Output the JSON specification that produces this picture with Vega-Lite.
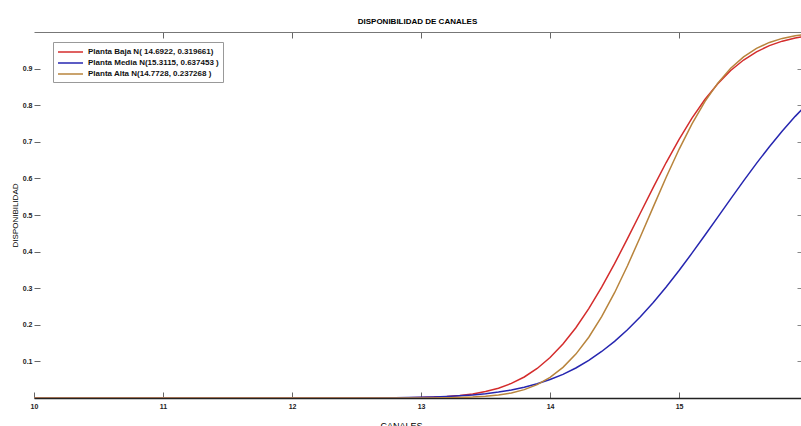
{
  "$schema": "https://vega.github.io/schema/vega-lite/v6.json",
  "width": 767,
  "height": 366,
  "autosize": {"type": "none"},
  "padding": {"left": 34, "top": 32, "right": 0, "bottom": 28},
  "background": "white",
  "title": {"text": "DISPONIBILIDAD DE CANALES", "font": "Liberation Sans", "fontSize": 8, "fontWeight": "bold", "color": "#000", "offset": 6, "anchor": "middle"},
  "config": {
    "view": {"stroke": null},
    "axis": {"labelFont": "Liberation Sans", "labelFontSize": 7, "labelFontWeight": "bold", "labelColor": "#222", "titleFont": "Liberation Sans", "titleFontSize": 8, "titleFontWeight": "normal", "titleColor": "#000", "grid": false}
  },
  "datasets": {
    "curves": [
      {"x": 10, "y": 0, "s": "Planta Baja N( 14.6922, 0.319661)"},
      {"x": 11, "y": 0, "s": "Planta Baja N( 14.6922, 0.319661)"},
      {"x": 12, "y": 0, "s": "Planta Baja N( 14.6922, 0.319661)"},
      {"x": 12.5, "y": 0.0001, "s": "Planta Baja N( 14.6922, 0.319661)"},
      {"x": 12.8, "y": 0.0004, "s": "Planta Baja N( 14.6922, 0.319661)"},
      {"x": 12.9, "y": 0.0008, "s": "Planta Baja N( 14.6922, 0.319661)"},
      {"x": 13.0, "y": 0.0014, "s": "Planta Baja N( 14.6922, 0.319661)"},
      {"x": 13.1, "y": 0.0024, "s": "Planta Baja N( 14.6922, 0.319661)"},
      {"x": 13.2, "y": 0.0042, "s": "Planta Baja N( 14.6922, 0.319661)"},
      {"x": 13.3, "y": 0.0069, "s": "Planta Baja N( 14.6922, 0.319661)"},
      {"x": 13.4, "y": 0.0111, "s": "Planta Baja N( 14.6922, 0.319661)"},
      {"x": 13.5, "y": 0.0175, "s": "Planta Baja N( 14.6922, 0.319661)"},
      {"x": 13.6, "y": 0.0268, "s": "Planta Baja N( 14.6922, 0.319661)"},
      {"x": 13.7, "y": 0.0398, "s": "Planta Baja N( 14.6922, 0.319661)"},
      {"x": 13.8, "y": 0.0574, "s": "Planta Baja N( 14.6922, 0.319661)"},
      {"x": 13.9, "y": 0.0806, "s": "Planta Baja N( 14.6922, 0.319661)"},
      {"x": 14.0, "y": 0.1105, "s": "Planta Baja N( 14.6922, 0.319661)"},
      {"x": 14.1, "y": 0.1477, "s": "Planta Baja N( 14.6922, 0.319661)"},
      {"x": 14.2, "y": 0.1921, "s": "Planta Baja N( 14.6922, 0.319661)"},
      {"x": 14.3, "y": 0.2440, "s": "Planta Baja N( 14.6922, 0.319661)"},
      {"x": 14.4, "y": 0.3027, "s": "Planta Baja N( 14.6922, 0.319661)"},
      {"x": 14.5, "y": 0.3670, "s": "Planta Baja N( 14.6922, 0.319661)"},
      {"x": 14.6, "y": 0.4352, "s": "Planta Baja N( 14.6922, 0.319661)"},
      {"x": 14.7, "y": 0.5055, "s": "Planta Baja N( 14.6922, 0.319661)"},
      {"x": 14.8, "y": 0.5756, "s": "Planta Baja N( 14.6922, 0.319661)"},
      {"x": 14.9, "y": 0.6434, "s": "Planta Baja N( 14.6922, 0.319661)"},
      {"x": 15.0, "y": 0.7069, "s": "Planta Baja N( 14.6922, 0.319661)"},
      {"x": 15.1, "y": 0.7647, "s": "Planta Baja N( 14.6922, 0.319661)"},
      {"x": 15.2, "y": 0.8154, "s": "Planta Baja N( 14.6922, 0.319661)"},
      {"x": 15.3, "y": 0.8588, "s": "Planta Baja N( 14.6922, 0.319661)"},
      {"x": 15.4, "y": 0.8947, "s": "Planta Baja N( 14.6922, 0.319661)"},
      {"x": 15.5, "y": 0.9234, "s": "Planta Baja N( 14.6922, 0.319661)"},
      {"x": 15.6, "y": 0.9458, "s": "Planta Baja N( 14.6922, 0.319661)"},
      {"x": 15.7, "y": 0.9627, "s": "Planta Baja N( 14.6922, 0.319661)"},
      {"x": 15.8, "y": 0.9750, "s": "Planta Baja N( 14.6922, 0.319661)"},
      {"x": 15.9, "y": 0.9837, "s": "Planta Baja N( 14.6922, 0.319661)"},
      {"x": 16.0, "y": 0.9896, "s": "Planta Baja N( 14.6922, 0.319661)"},
      {"x": 10, "y": 0, "s": "Planta Media N(15.3115, 0.637453 )"},
      {"x": 11, "y": 0, "s": "Planta Media N(15.3115, 0.637453 )"},
      {"x": 12, "y": 0, "s": "Planta Media N(15.3115, 0.637453 )"},
      {"x": 12.5, "y": 0.0002, "s": "Planta Media N(15.3115, 0.637453 )"},
      {"x": 12.8, "y": 0.0008, "s": "Planta Media N(15.3115, 0.637453 )"},
      {"x": 12.9, "y": 0.0013, "s": "Planta Media N(15.3115, 0.637453 )"},
      {"x": 13.0, "y": 0.0019, "s": "Planta Media N(15.3115, 0.637453 )"},
      {"x": 13.1, "y": 0.0028, "s": "Planta Media N(15.3115, 0.637453 )"},
      {"x": 13.2, "y": 0.0041, "s": "Planta Media N(15.3115, 0.637453 )"},
      {"x": 13.3, "y": 0.0059, "s": "Planta Media N(15.3115, 0.637453 )"},
      {"x": 13.4, "y": 0.0084, "s": "Planta Media N(15.3115, 0.637453 )"},
      {"x": 13.5, "y": 0.0117, "s": "Planta Media N(15.3115, 0.637453 )"},
      {"x": 13.6, "y": 0.0161, "s": "Planta Media N(15.3115, 0.637453 )"},
      {"x": 13.7, "y": 0.0219, "s": "Planta Media N(15.3115, 0.637453 )"},
      {"x": 13.8, "y": 0.0292, "s": "Planta Media N(15.3115, 0.637453 )"},
      {"x": 13.9, "y": 0.0387, "s": "Planta Media N(15.3115, 0.637453 )"},
      {"x": 14.0, "y": 0.0504, "s": "Planta Media N(15.3115, 0.637453 )"},
      {"x": 14.1, "y": 0.0647, "s": "Planta Media N(15.3115, 0.637453 )"},
      {"x": 14.2, "y": 0.0820, "s": "Planta Media N(15.3115, 0.637453 )"},
      {"x": 14.3, "y": 0.1029, "s": "Planta Media N(15.3115, 0.637453 )"},
      {"x": 14.4, "y": 0.1271, "s": "Planta Media N(15.3115, 0.637453 )"},
      {"x": 14.5, "y": 0.1549, "s": "Planta Media N(15.3115, 0.637453 )"},
      {"x": 14.6, "y": 0.1865, "s": "Planta Media N(15.3115, 0.637453 )"},
      {"x": 14.7, "y": 0.2221, "s": "Planta Media N(15.3115, 0.637453 )"},
      {"x": 14.8, "y": 0.2611, "s": "Planta Media N(15.3115, 0.637453 )"},
      {"x": 14.9, "y": 0.3033, "s": "Planta Media N(15.3115, 0.637453 )"},
      {"x": 15.0, "y": 0.3483, "s": "Planta Media N(15.3115, 0.637453 )"},
      {"x": 15.1, "y": 0.3957, "s": "Planta Media N(15.3115, 0.637453 )"},
      {"x": 15.2, "y": 0.4445, "s": "Planta Media N(15.3115, 0.637453 )"},
      {"x": 15.3, "y": 0.4943, "s": "Planta Media N(15.3115, 0.637453 )"},
      {"x": 15.4, "y": 0.5441, "s": "Planta Media N(15.3115, 0.637453 )"},
      {"x": 15.5, "y": 0.5933, "s": "Planta Media N(15.3115, 0.637453 )"},
      {"x": 15.6, "y": 0.6411, "s": "Planta Media N(15.3115, 0.637453 )"},
      {"x": 15.7, "y": 0.6867, "s": "Planta Media N(15.3115, 0.637453 )"},
      {"x": 15.8, "y": 0.7297, "s": "Planta Media N(15.3115, 0.637453 )"},
      {"x": 15.9, "y": 0.7695, "s": "Planta Media N(15.3115, 0.637453 )"},
      {"x": 16.0, "y": 0.8057, "s": "Planta Media N(15.3115, 0.637453 )"},
      {"x": 10, "y": 0, "s": "Planta Alta N(14.7728, 0.237268 )"},
      {"x": 11, "y": 0, "s": "Planta Alta N(14.7728, 0.237268 )"},
      {"x": 12, "y": 0, "s": "Planta Alta N(14.7728, 0.237268 )"},
      {"x": 12.5, "y": 0, "s": "Planta Alta N(14.7728, 0.237268 )"},
      {"x": 12.8, "y": 0, "s": "Planta Alta N(14.7728, 0.237268 )"},
      {"x": 12.9, "y": 0.0001, "s": "Planta Alta N(14.7728, 0.237268 )"},
      {"x": 13.0, "y": 0.0001, "s": "Planta Alta N(14.7728, 0.237268 )"},
      {"x": 13.1, "y": 0.0003, "s": "Planta Alta N(14.7728, 0.237268 )"},
      {"x": 13.2, "y": 0.0006, "s": "Planta Alta N(14.7728, 0.237268 )"},
      {"x": 13.3, "y": 0.0013, "s": "Planta Alta N(14.7728, 0.237268 )"},
      {"x": 13.4, "y": 0.0024, "s": "Planta Alta N(14.7728, 0.237268 )"},
      {"x": 13.5, "y": 0.0045, "s": "Planta Alta N(14.7728, 0.237268 )"},
      {"x": 13.6, "y": 0.0080, "s": "Planta Alta N(14.7728, 0.237268 )"},
      {"x": 13.7, "y": 0.0138, "s": "Planta Alta N(14.7728, 0.237268 )"},
      {"x": 13.8, "y": 0.0229, "s": "Planta Alta N(14.7728, 0.237268 )"},
      {"x": 13.9, "y": 0.0366, "s": "Planta Alta N(14.7728, 0.237268 )"},
      {"x": 14.0, "y": 0.0564, "s": "Planta Alta N(14.7728, 0.237268 )"},
      {"x": 14.1, "y": 0.0837, "s": "Planta Alta N(14.7728, 0.237268 )"},
      {"x": 14.2, "y": 0.1199, "s": "Planta Alta N(14.7728, 0.237268 )"},
      {"x": 14.3, "y": 0.1660, "s": "Planta Alta N(14.7728, 0.237268 )"},
      {"x": 14.4, "y": 0.2222, "s": "Planta Alta N(14.7728, 0.237268 )"},
      {"x": 14.5, "y": 0.2877, "s": "Planta Alta N(14.7728, 0.237268 )"},
      {"x": 14.6, "y": 0.3614, "s": "Planta Alta N(14.7728, 0.237268 )"},
      {"x": 14.7, "y": 0.4406, "s": "Planta Alta N(14.7728, 0.237268 )"},
      {"x": 14.8, "y": 0.5223, "s": "Planta Alta N(14.7728, 0.237268 )"},
      {"x": 14.9, "y": 0.6030, "s": "Planta Alta N(14.7728, 0.237268 )"},
      {"x": 15.0, "y": 0.6795, "s": "Planta Alta N(14.7728, 0.237268 )"},
      {"x": 15.1, "y": 0.7491, "s": "Planta Alta N(14.7728, 0.237268 )"},
      {"x": 15.2, "y": 0.8098, "s": "Planta Alta N(14.7728, 0.237268 )"},
      {"x": 15.3, "y": 0.8604, "s": "Planta Alta N(14.7728, 0.237268 )"},
      {"x": 15.4, "y": 0.9011, "s": "Planta Alta N(14.7728, 0.237268 )"},
      {"x": 15.5, "y": 0.9322, "s": "Planta Alta N(14.7728, 0.237268 )"},
      {"x": 15.6, "y": 0.9553, "s": "Planta Alta N(14.7728, 0.237268 )"},
      {"x": 15.7, "y": 0.9715, "s": "Planta Alta N(14.7728, 0.237268 )"},
      {"x": 15.8, "y": 0.9825, "s": "Planta Alta N(14.7728, 0.237268 )"},
      {"x": 15.9, "y": 0.9897, "s": "Planta Alta N(14.7728, 0.237268 )"},
      {"x": 16.0, "y": 0.9941, "s": "Planta Alta N(14.7728, 0.237268 )"}
    ]
  },
  "data": {"name": "curves"},
  "resolve": {"axis": {"x": "independent", "y": "independent"}},
  "layer": [
    {
      "mark": {"type": "line", "strokeWidth": 1.5, "clip": true, "interpolate": "linear"},
      "encoding": {
        "x": {"field": "x", "type": "quantitative", "scale": {"domain": [10, 15.945], "nice": false, "zero": false},
          "axis": {"title": "CANALES", "values": [10, 11, 12, 13, 14, 15], "tickSize": -6, "tickColor": "#666", "labelPadding": 10, "domainColor": "#222", "domainWidth": 1.6, "titlePadding": 12, "titleFontSize": 9, "titleX": 367, "labelFlush": false}},
        "y": {"field": "y", "type": "quantitative", "scale": {"domain": [0, 1], "nice": false},
          "axis": {"title": "DISPONIBILIDAD", "values": [0.1, 0.2, 0.3, 0.4, 0.5, 0.6, 0.7, 0.8, 0.9], "format": ".1f", "tickSize": -6, "tickColor": "#666", "labelPadding": 8, "domain": false, "titlePadding": 3}},
        "color": {"field": "s", "type": "nominal",
          "scale": {"domain": ["Planta Baja N( 14.6922, 0.319661)", "Planta Media N(15.3115, 0.637453 )", "Planta Alta N(14.7728, 0.237268 )"], "range": ["#d42c2c", "#2626b0", "#b8843c"]},
          "legend": {"title": null, "orient": "none", "legendX": 19, "legendY": 10, "symbolType": "M-1,0H4", "symbolSize": 100, "symbolStrokeWidth": 1.5, "labelFont": "Liberation Sans", "labelFontSize": 8, "labelFontWeight": "bold", "labelColor": "#111", "fillColor": "white", "strokeColor": "#999", "padding": 4, "rowPadding": 1, "labelOffset": 19, "labelLimit": 300}}
      }
    },
    {
      "mark": {"type": "line", "opacity": 0, "clip": true},
      "encoding": {
        "x": {"field": "x", "type": "quantitative", "scale": {"domain": [10, 15.945], "nice": false, "zero": false},
          "axis": {"orient": "top", "title": null, "labels": false, "values": [11, 12, 13, 14, 15], "tickSize": -6, "tickColor": "#666", "domainColor": "#777", "domainWidth": 1}},
        "y": {"field": "y", "type": "quantitative", "scale": {"domain": [0, 1], "nice": false},
          "axis": {"orient": "right", "title": null, "labels": false, "values": [0.1, 0.2, 0.3, 0.4, 0.5, 0.6, 0.7, 0.8, 0.9], "tickSize": -4, "tickColor": "#888", "domain": false}},
        "detail": {"field": "s"}
      }
    }
  ]
}
